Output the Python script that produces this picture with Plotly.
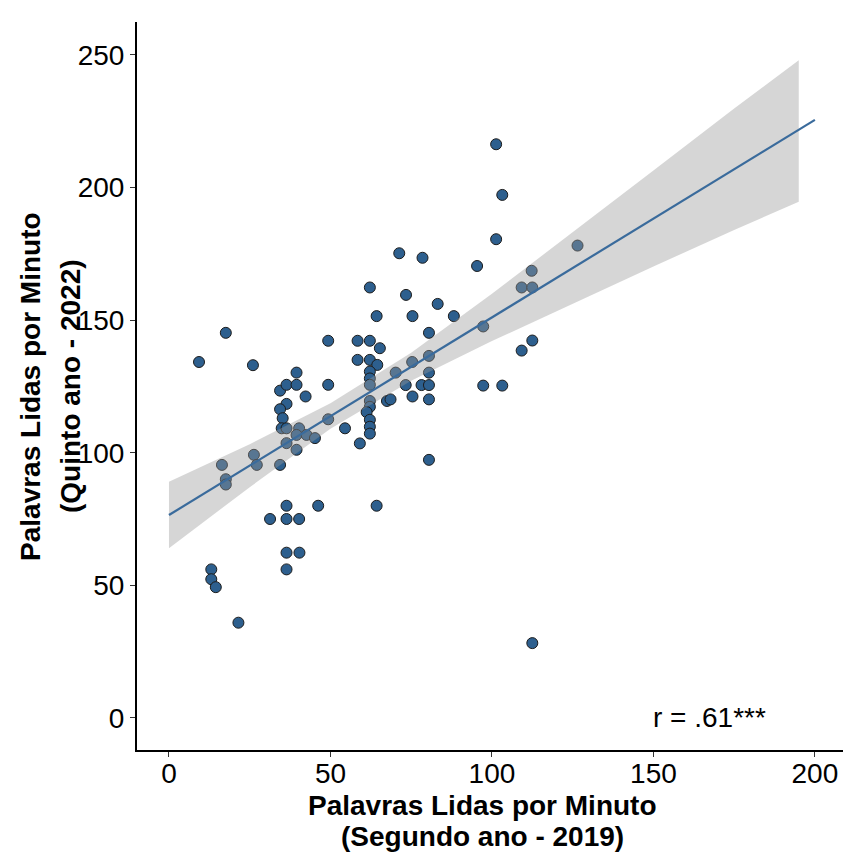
import plotly.graph_objects as go

# Reading speed: words read per minute
x_2019 = [9.3, 17.6, 26.0,
          16.4, 17.6, 17.6, 26.3, 27.2, 34.4,
          13.1, 13.1, 14.5, 21.5,
          31.3, 36.4, 40.3, 36.4, 46.2, 64.3,
          36.4, 40.4, 36.4,
          39.5, 34.4, 36.4, 39.5, 42.3, 36.4, 34.4, 35.2, 34.9, 36.4, 40.3, 39.5, 42.6, 45.2, 36.4, 39.5,
          49.3, 49.3, 49.3, 54.5, 59.1, 58.4, 58.4,
          62.2, 65.3, 62.2, 64.5, 62.2, 62.2, 62.2, 62.2, 62.2, 61.2, 62.2, 62.2, 62.2,
          62.2, 64.3,
          67.5, 68.6,
          70.2, 71.3, 73.4, 73.3, 75.4, 75.3, 75.4,
          78.5, 78.2, 80.5, 80.5, 80.5, 80.5, 80.5, 80.5,
          83.2, 88.2,
          95.4, 97.3, 97.3,
          101.3, 103.2, 101.3, 103.2,
          109.2, 112.5, 112.3, 112.5, 109.2,
          126.5,
          112.5]
y_2022 = [134.2, 145.2, 133.0,
          95.4, 90.0, 88.0, 99.2, 95.4, 95.4,
          56.0, 52.3, 49.3, 35.9,
          75.0, 75.0, 75.0, 80.0, 80.0, 80.0,
          62.3, 62.3, 56.0,
          130.2, 123.4, 125.6, 125.6, 121.2, 118.4, 116.4, 113.0, 109.2, 109.2, 109.2, 106.7, 106.7, 105.5, 103.6, 101.1,
          142.2, 125.6, 112.6, 109.2, 103.5, 142.2, 135.0,
          142.2, 139.4, 135.0, 133.1, 130.6, 128.0, 125.6, 119.5, 117.3, 115.3, 112.4, 109.8, 107.2,
          162.3, 151.5,
          119.5, 120.1,
          130.2, 175.2, 159.5, 125.5, 151.5, 134.2, 121.2,
          173.5, 125.5, 145.2, 136.5, 130.2, 125.5, 120.1, 97.3,
          156.1, 151.5,
          170.4, 147.6, 125.3,
          216.3, 197.2, 180.5, 125.3,
          162.3, 162.3, 168.6, 142.3, 138.5,
          178.1,
          28.2]

# Regression line and confidence band
fit_x = [0, 200]
fit_y = [76.5, 225.5]
band_x = [0, 25, 50, 75, 100, 125, 150, 175, 195]
band_lo = [64.0, 87.0, 109.0, 127.1, 142.1, 156.2, 170.2, 184.0, 194.6]
band_hi = [89.0, 103.2, 118.6, 137.7, 159.9, 183.0, 206.4, 229.8, 248.0]

x_ticks = [0, 50, 100, 150, 200]
y_ticks = [0, 50, 100, 150, 200, 250]

x_title_lines = ["Palavras Lidas por Minuto", "(Segundo ano - 2019)"]
y_title_lines = ["Palavras Lidas por Minuto", "(Quinto ano - 2022)"]
r_label = "r = .61***"

FONT = "Liberation Sans, Arial, sans-serif"

fig = go.Figure()
fig.add_trace(go.Scatter(
    x=x_2019, y=y_2022, mode="markers",
    marker=dict(size=11, color="#2D5F8E", line=dict(color="#1C1C1C", width=1)),
    hoverinfo="skip"))
fig.add_trace(go.Scatter(
    x=band_x + band_x[::-1], y=band_hi + band_lo[::-1],
    mode="lines", fill="toself", fillcolor="rgba(153,153,153,0.4)",
    line=dict(width=0), hoverinfo="skip"))
fig.add_trace(go.Scatter(
    x=fit_x, y=fit_y, mode="lines",
    line=dict(color="#3A6B9C", width=2.2), hoverinfo="skip"))

axis_common = dict(
    showline=True, linecolor="black", linewidth=2, mirror=False,
    ticks="outside", ticklen=5, tickwidth=1, tickcolor="#333333",
    showgrid=False, zeroline=False,
    tickfont=dict(family=FONT, size=28, color="black"),
)

title_font = dict(family=FONT, size=28, color="black", weight="bold")
annotations = [
    dict(text=r_label, x=167.5, y=0, xref="x", yref="y",
         showarrow=False, font=dict(family=FONT, size=28, color="black")),
]
for txt, yy in zip(x_title_lines, [-0.0769, -0.1195]):
    annotations.append(dict(text=txt, x=0.49, y=yy, xref="paper", yref="paper",
                            xanchor="center", yanchor="middle", showarrow=False,
                            font=title_font))
for txt, xx in zip(y_title_lines, [-0.1516, -0.0949]):
    annotations.append(dict(text=txt, x=xx, y=0.5, xref="paper", yref="paper",
                            xanchor="center", yanchor="middle", textangle=-90,
                            showarrow=False, font=title_font))

fig.update_layout(
    width=843, height=854,
    margin=dict(l=137, r=0, t=22, b=104),
    plot_bgcolor="white", paper_bgcolor="white",
    showlegend=False,
    xaxis=dict(range=[-9.9, 208.7], tickvals=x_ticks, ticklabelstandoff=-8, **axis_common),
    yaxis=dict(range=[-12.1, 262.4], tickvals=y_ticks, **axis_common),
    annotations=annotations,
)

fig.write_html("out.html")
